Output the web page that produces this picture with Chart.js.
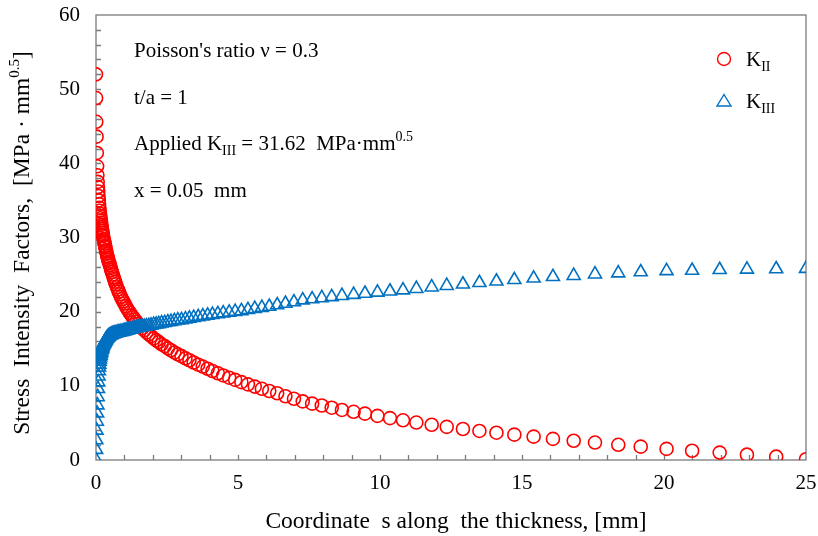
<!DOCTYPE html>
<html>
<head>
<meta charset="utf-8">
<script src="https://cdn.jsdelivr.net/npm/chart.js@4.4.0/dist/chart.umd.min.js"></script>
<style>
  body { margin: 0; background: #fff; }
  #wrap { width: 818px; height: 536px; }
</style>
</head>
<body>
<div id="wrap"><canvas id="sifChart" width="818" height="536"></canvas></div>
<script>
// coordinate s along the thickness [mm]
const sCoord = [
  0, 0.005, 0.01, 0.02, 0.03, 0.04, 0.05, 0.06, 0.07, 0.08,
  0.09, 0.10, 0.11, 0.12, 0.13, 0.14, 0.15, 0.16, 0.17, 0.18,
  0.19, 0.20, 0.21, 0.22, 0.23, 0.24, 0.25, 0.27, 0.28, 0.29,
  0.30, 0.32, 0.33, 0.35, 0.36, 0.38, 0.40, 0.41, 0.43, 0.45,
  0.47, 0.49, 0.52, 0.54, 0.56, 0.59, 0.62, 0.64, 0.67, 0.70,
  0.74, 0.77, 0.80, 0.84, 0.88, 0.92, 0.96, 1.00, 1.05, 1.09,
  1.14, 1.19, 1.25, 1.30, 1.36, 1.42, 1.49, 1.56, 1.63, 1.70,
  1.78, 1.86, 1.94, 2.03, 2.12, 2.21, 2.31, 2.42, 2.53, 2.64,
  2.76, 2.88, 3.01, 3.15, 3.29, 3.44, 3.60, 3.76, 3.93, 4.10,
  4.29, 4.48, 4.69, 4.90, 5.12, 5.35, 5.59, 5.84, 6.10, 6.38,
  6.67, 6.97, 7.28, 7.61, 7.95, 8.30, 8.66, 9.07, 9.47, 9.91,
  10.35, 10.81, 11.28, 11.82, 12.35, 12.92, 13.50, 14.10, 14.73, 15.41,
  16.09, 16.82, 17.57, 18.39, 19.18, 20.09, 20.99, 21.96, 22.92, 23.95,
  25.0
];
const kII = [
  52.0, 48.8, 45.6, 43.6, 41.4, 39.6, 38.4, 37.5, 36.8, 36.2,
  35.6, 35.0, 34.5, 34.0, 33.6, 33.2, 32.9, 32.6, 32.3, 32.0,
  31.7, 31.4, 31.15, 30.9, 30.65, 30.4, 30.2, 29.8, 29.6, 29.4,
  29.2, 28.85, 28.65, 28.3, 28.1, 27.8, 27.5, 27.3, 27.0, 26.75,
  26.5, 26.25, 25.9, 25.6, 25.35, 25.0, 24.65, 24.4, 24.05, 23.7,
  23.3, 23.0, 22.7, 22.35, 22.0, 21.7, 21.4, 21.1, 20.75, 20.45,
  20.15, 19.85, 19.5, 19.25, 18.95, 18.65, 18.35, 18.05, 17.75, 17.5,
  17.2, 16.95, 16.7, 16.4, 16.15, 15.9, 15.6, 15.35, 15.05, 14.8,
  14.5, 14.25, 14.0, 13.7, 13.45, 13.15, 12.85, 12.6, 12.3, 12.0,
  11.7, 11.4, 11.1, 10.8, 10.5, 10.2, 9.9, 9.6, 9.3, 9.0,
  8.6, 8.25, 7.9, 7.6, 7.35, 7.05, 6.75, 6.5, 6.25, 5.95,
  5.65, 5.35, 5.05, 4.75, 4.47, 4.18, 3.92, 3.68, 3.42, 3.15,
  2.85, 2.6, 2.35, 2.05, 1.8, 1.5, 1.25, 1.0, 0.72, 0.45,
  0.1
];
const kIII = [
  0, 1.4, 2.7, 4.0, 5.2, 6.3, 7.4, 8.5, 9.6, 10.5,
  11.3, 12.0, 12.5, 12.9, 13.3, 13.6, 13.9, 14.1, 14.3, 14.5,
  14.7, 14.9, 15.0, 15.1, 15.25, 15.4, 15.5, 15.6, 15.7, 15.8,
  15.9, 16.0, 16.1, 16.2, 16.3, 16.4, 16.5, 16.55, 16.6, 16.7,
  16.75, 16.8, 16.85, 16.9, 16.95, 17.0, 17.0, 17.05, 17.1, 17.1,
  17.15, 17.2, 17.2, 17.25, 17.3, 17.3, 17.35, 17.4, 17.45, 17.5,
  17.55, 17.6, 17.65, 17.7, 17.75, 17.8, 17.85, 17.9, 17.95, 18.0,
  18.05, 18.1, 18.15, 18.25, 18.3, 18.35, 18.45, 18.5, 18.6, 18.65,
  18.75, 18.85, 18.9, 19.0, 19.1, 19.2, 19.3, 19.4, 19.5, 19.6,
  19.7, 19.8, 19.9, 20.0, 20.1, 20.25, 20.4, 20.55, 20.7, 20.9,
  21.1, 21.3, 21.55, 21.7, 21.85, 22.0, 22.15, 22.3, 22.45, 22.6,
  22.75, 22.9, 23.1, 23.3, 23.5, 23.7, 23.9, 24.1, 24.3, 24.5,
  24.7, 24.85, 25.05, 25.2, 25.35, 25.5, 25.55, 25.65, 25.7, 25.75,
  25.8
];
const xTickValues = [0, 5, 10, 15, 20, 25];
const yTickValues = [0, 10, 20, 30, 40, 50, 60];

const FONT = '"Liberation Serif", "Times New Roman", serif';
const RED = '#ff0000';
const BLUE = '#0070c0';
const AXIS = '#7a7a7a';

// draws text made of [string, mode] parts, mode '' | 'sub' | 'sup'
function richText(ctx, x, y, parts, size, align) {
  const small = Math.round(size * 0.65);
  let w = 0;
  parts.forEach(p => {
    ctx.font = (p[1] ? small : size) + 'px ' + FONT;
    w += ctx.measureText(p[0]).width;
  });
  let cx = align === 'center' ? x - w / 2 : x;
  ctx.textAlign = 'left';
  ctx.textBaseline = 'alphabetic';
  parts.forEach(p => {
    ctx.font = (p[1] ? small : size) + 'px ' + FONT;
    let dy = 0;
    if (p[1] === 'sub') dy = size * 0.22;
    if (p[1] === 'sup') dy = -size * 0.42;
    ctx.fillText(p[0], cx, y + dy);
    cx += ctx.measureText(p[0]).width;
  });
}

const decor = {
  id: 'decor',
  beforeDatasetsDraw(chart) {
    const {ctx, chartArea: a, scales: {x, y}} = chart;
    ctx.save();
    ctx.strokeStyle = AXIS;
    ctx.lineWidth = 1.3;
    ctx.strokeRect(a.left, a.top, a.right - a.left, a.bottom - a.top);
    ctx.beginPath();
    for (let v = 1; v < 25; v++) {
      const px = Math.round(x.getPixelForValue(v)) + 0.5;
      ctx.moveTo(px, a.bottom);
      ctx.lineTo(px, a.bottom - 5);
    }
    for (let v = 2; v < 60; v += 2) {
      const py = Math.round(y.getPixelForValue(v)) + 0.5;
      ctx.moveTo(a.left, py);
      ctx.lineTo(a.left + 5, py);
    }
    ctx.stroke();
    ctx.restore();
  },
  afterDraw(chart) {
    const {ctx} = chart;
    ctx.save();
    ctx.fillStyle = '#000';
    // notes
    richText(ctx, 134, 57, [["Poisson's ratio \u03bd = 0.3", '']], 21);
    richText(ctx, 134, 104, [['t/a = 1', '']], 21);
    richText(ctx, 134, 150, [['Applied K', ''], ['III', 'sub'], [' = 31.62  MPa\u00b7mm', ''], ['0.5', 'sup']], 21);
    richText(ctx, 134, 197, [['x = 0.05  mm', '']], 21);
    // legend
    ctx.lineWidth = 1.4;
    ctx.strokeStyle = RED;
    ctx.beginPath();
    ctx.arc(724, 59, 6.5, 0, Math.PI * 2);
    ctx.stroke();
    ctx.strokeStyle = BLUE;
    ctx.beginPath();
    ctx.moveTo(724, 94.5);
    ctx.lineTo(731, 106);
    ctx.lineTo(717, 106);
    ctx.closePath();
    ctx.stroke();
    richText(ctx, 746, 66, [['K', ''], ['II', 'sub']], 21);
    richText(ctx, 746, 108, [['K', ''], ['III', 'sub']], 21);
    // axis titles
    richText(ctx, 456, 528, [['Coordinate  s along  the thickness, [mm]', '']], 23.5, 'center');
    ctx.translate(29, 243);
    ctx.rotate(-Math.PI / 2);
    richText(ctx, 0, 0, [['Stress  Intensity  Factors,  [MPa \u00b7 mm', ''], ['0.5', 'sup'], [']', '']], 23.5, 'center');
    ctx.restore();
  }
};

const ctx = document.getElementById('sifChart').getContext('2d');
const sifChart = new Chart(ctx, {
  type: 'scatter',
  data: {
    datasets: [
      {
        label: 'KII',
        data: sCoord.map((s, i) => ({x: s, y: kII[i]})),
        pointStyle: 'circle',
        pointRadius: 6.5,
        pointBorderWidth: 1.6,
        borderColor: RED,
        backgroundColor: 'rgba(0,0,0,0)',
        order: 2
      },
      {
        label: 'KIII',
        data: sCoord.map((s, i) => ({x: s, y: kIII[i]})),
        pointStyle: 'triangle',
        pointRadius: 7.5,
        pointBorderWidth: 1.6,
        borderColor: BLUE,
        backgroundColor: 'rgba(0,0,0,0)',
        order: 1
      }
    ]
  },
  options: {
    responsive: false,
    animation: false,
    devicePixelRatio: 1,
    layout: { padding: { left: 0, right: 12, top: 15, bottom: 0 } },
    plugins: { legend: { display: false }, tooltip: { enabled: false } },
    scales: {
      x: {
        type: 'linear', min: 0, max: 25,
        afterBuildTicks: s => { s.ticks = xTickValues.map(v => ({value: v})); },
        afterFit: s => { s.height = 76; s.paddingLeft = 0; s.paddingRight = 0; },
        grid: { display: false },
        border: { display: false },
        ticks: { color: '#000', padding: 3, font: { family: FONT, size: 21 } }
      },
      y: {
        type: 'linear', min: 0, max: 60,
        afterBuildTicks: s => { s.ticks = yTickValues.map(v => ({value: v})); },
        afterFit: s => { s.width = 96; s.paddingTop = 0; s.paddingBottom = 0; },
        grid: { display: false },
        border: { display: false },
        ticks: { color: '#000', padding: 8, font: { family: FONT, size: 21 } }
      }
    }
  },
  plugins: [decor]
});
</script>
</body>
</html>
